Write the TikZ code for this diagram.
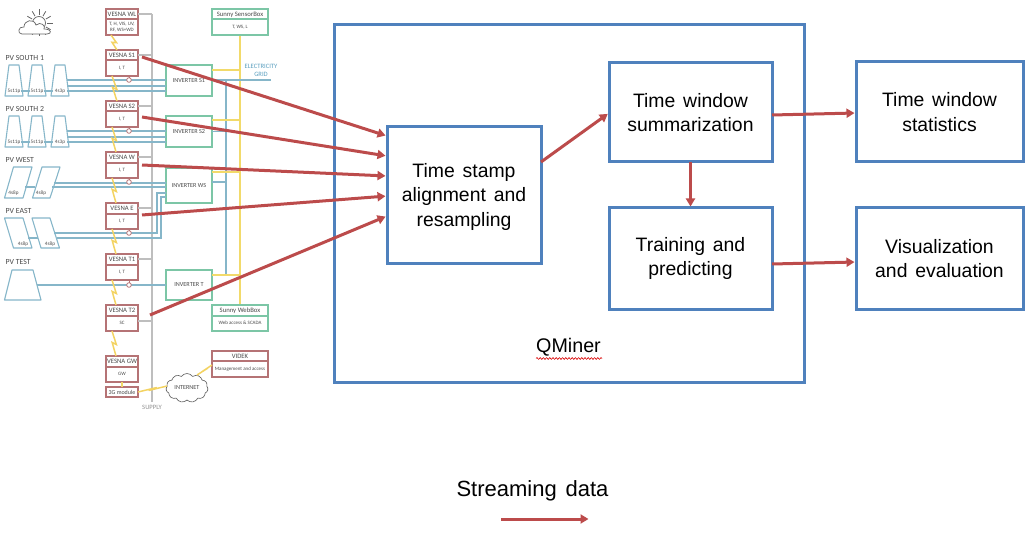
\documentclass[tikz,border=0pt]{standalone}
\usepackage{fontspec}
\setmainfont{Liberation Sans}
\newfontfamily\widef[WordSpace=1.45]{Liberation Sans}
\newfontfamily\tinyf{Carlito}
\usetikzlibrary{arrows.meta,shapes.symbols,decorations.pathmorphing,calc}
\definecolor{mainblue}{HTML}{4F81BD}
\definecolor{flowred}{HTML}{BC4B4B}
\definecolor{boxred}{HTML}{B57375}
\definecolor{boxgreen}{HTML}{7CC6A6}
\definecolor{linkblue}{HTML}{86B6C9}
\definecolor{linkyellow}{HTML}{F2DA6A}
\definecolor{linkgrey}{HTML}{BEBEBE}
\definecolor{tinytext}{HTML}{4A4A4A}
\definecolor{gridblue}{HTML}{5B9FBF}
\tikzset{
  mainbox/.style={draw=mainblue,line width=3pt,outer sep=0pt,align=center,inner sep=0pt,
    font=\widef\fontsize{19.4}{24.8}\selectfont},
  flow/.style={draw=flowred,line width=3pt,-{Triangle[length=8pt,width=9pt]}},
  panel/.style={draw=linkblue,line width=1.1pt,line join=round},
  cable/.style={draw=linkblue,line width=1.2pt},
  wire/.style={draw=linkyellow,line width=1.1pt},
  bolt/.style={draw=linkyellow!92!orange,line width=1.5pt,line join=miter},
  supply/.style={draw=linkgrey,line width=1.1pt},
  tinybox/.style={draw=#1,line width=1.2pt,outer sep=0pt,inner sep=0pt,fill=white},
  tinytitle/.style={font=\tinyf\fontsize{6.7}{8}\selectfont,text=tinytext,inner sep=0pt,yshift=-.7pt},
  tinysub/.style={font=\tinyf\fontsize{5}{6.6}\selectfont,text=tinytext,inner sep=0pt,align=center},
  pvlabel/.style={font=\tinyf\fontsize{7.8}{9}\selectfont,text=tinytext,inner sep=0pt,anchor=west},
  panellabel/.style={font=\tinyf\fontsize{5.2}{6}\selectfont,text=tinytext,inner sep=0pt},
  invbox/.style={draw=boxgreen,line width=1.2pt,outer sep=0pt,inner sep=0pt,fill=white,
    font=\tinyf\fontsize{6.2}{8}\selectfont,text=tinytext},
  sensor/.style={circle,draw=boxred,line width=.8pt,minimum size=4.6pt,inner sep=0pt,fill=white,outer sep=0pt}
}
% name, colour, width, cx, top, bottom, divider y
\newcommand{\twobox}[7]{%
  \node[tinybox=#2,minimum width=#3pt,minimum height={(#6-#5)*1pt},anchor=north] (#1) at (#4,#5) {};
  \coordinate (#1div) at (#4,#7);
  \draw[#2,line width=1.1pt] (#1.west |- #1div) -- (#1.east |- #1div);
}
\newcommand{\boltline}[2]{%
  \draw[bolt] (#1) -- ($(#1)!.58!(#2)+(2,-1)$) -- ($(#1)!.42!(#2)+(-1.5,1)$) -- (#2);
}
\newcommand{\trap}[5]{\draw[panel] (#1,#3) -- (#1+4,#2) -- (#1+14,#2) -- (#1+18,#3) -- cycle;
  \node[panellabel] (#4) at (#1+9,#3-5) {#5};}
\newcommand{\lowerstrut}{\rule{0pt}{18pt}}
\begin{document}
\begin{tikzpicture}[x=1pt,y=-1pt]
\useasboundingbox (0,0) rectangle (1028,540);

% ---- supply, wiring
\coordinate (supTop) at (152,14);
\coordinate (supBot) at (152,402);
\draw[supply] (supTop) -- (supBot);
\node[font=\tinyf\fontsize{6.6}{8}\selectfont,text=linkgrey!75!black,inner sep=0pt] (supplab) at (152,407.5) {SUPPLY};

% vertical bus lines
\coordinate (busBlueTop) at (226,80);
\coordinate (busBlueBot) at (226,275);
\draw[cable] (busBlueTop) -- (busBlueBot);
\coordinate (busYTop) at (240,35);
\coordinate (busYBot) at (240,305);
\draw[wire] (busYTop) -- (busYBot);

% ---- sensor/gateway boxes
\twobox{wl}{boxred}{32}{122}{9}{35}{19}
\twobox{s1}{boxred}{32}{122}{50}{76}{60}
\twobox{s2}{boxred}{32}{122}{101}{127}{111}
\twobox{vw}{boxred}{32}{122}{152}{178}{163}
\twobox{ve}{boxred}{32}{122}{203}{229}{214}
\twobox{t1}{boxred}{32}{122}{254}{280}{265}
\twobox{t2}{boxred}{32}{122}{305}{331}{316}
\twobox{gw}{boxred}{32}{122}{356}{382}{367}
\node[tinybox=boxred,minimum width=32pt,minimum height=10pt,font=\tinyf\fontsize{6}{7}\selectfont,text=tinytext] (g3) at (122,392) {3G module};
\twobox{ssb}{boxgreen}{56}{240}{9}{35}{19}
\twobox{swb}{boxgreen}{56}{240}{305}{331}{316}
\twobox{vid}{boxred}{56}{240}{351}{377}{361}
\node[tinytitle] (wlt) at (122,14) {VESNA WL};   \node[tinysub] (wls) at (122,27) {T, H, VIS, UV,\\RF, WS+WD};
\node[tinytitle] (s1t) at (122,55) {VESNA S1};  \node[tinysub] (s1s) at (122,68) {I, T};
\node[tinytitle] (s2t) at (122,106) {VESNA S2}; \node[tinysub] (s2s) at (122,119) {I, T};
\node[tinytitle] (vwt) at (122,157) {VESNA W};  \node[tinysub] (vws) at (122,170) {I, T};
\node[tinytitle] (vet) at (122,208) {VESNA E};  \node[tinysub] (ves) at (122,221) {I, T};
\node[tinytitle] (t1t) at (122,259) {VESNA T1}; \node[tinysub] (t1s) at (122,272) {I, T};
\node[tinytitle] (t2t) at (122,310) {VESNA T2}; \node[tinysub] (t2s) at (122,323) {SC};
\node[tinytitle] (gwt) at (122,361) {VESNA GW}; \node[tinysub] (gws) at (122,374) {GW};
\node[tinytitle] (ssbt) at (240,14) {Sunny SensorBox}; \node[tinysub] (ssbs) at (240,27) {T, WS, L};
\node[tinytitle] (swbt) at (240,310) {Sunny WebBox}; \node[tinysub] (swbs) at (240,323) {Web access \& SCADA};
\node[tinytitle] (vidt) at (240,356) {VIDEK}; \node[tinysub] (vids) at (240,369) {Management and access};

% ---- inverters
\node[invbox,minimum width=46pt,minimum height=31pt] (is1) at (189,80.5) {INVERTER S1};
\node[invbox,minimum width=46pt,minimum height=31pt] (is2) at (189,131.5) {INVERTER S2};
\node[invbox,minimum width=46pt,minimum height=35pt] (iws) at (189,185.5) {INVERTER WS};
\node[invbox,minimum width=46pt,minimum height=30pt] (it) at (189,285) {INVERTER T};

% ---- panels
\trap{5}{65}{96}{a1}{5s11p}\trap{28}{65}{96}{a2}{5s11p}\trap{51}{65}{96}{a3}{4s3p}
\trap{5}{116}{147}{b1}{5s11p}\trap{28}{116}{147}{b2}{5s11p}\trap{51}{116}{147}{b3}{4s3p}
\draw[panel] (4.5,198) -- (13.5,167) -- (32,167) -- (23,198) -- cycle;
\node[panellabel] (c1) at (13.5,193) {4s8p};
\draw[panel] (32.5,198) -- (42,167) -- (60,167) -- (50,198) -- cycle;
\node[panellabel] (c2) at (41,193) {4s8p};
\draw[panel] (4.5,218) -- (23,218) -- (32,248) -- (13.5,248) -- cycle;
\node[panellabel] (d1) at (23,244) {4s8p};
\draw[panel] (32,218) -- (50,218) -- (59.5,248) -- (41,248) -- cycle;
\node[panellabel] (d2) at (50,244) {4s8p};
\draw[panel] (4.5,300) -- (12,270) -- (33,270) -- (41,300) -- cycle;
\node[pvlabel] (p1) at (5.5,57.5) {PV SOUTH 1};
\node[pvlabel] (p2) at (5.5,108.5) {PV SOUTH 2};
\node[pvlabel] (p3) at (5.5,159.5) {PV WEST};
\node[pvlabel] (p4) at (5.5,210.5) {PV EAST};
\node[pvlabel] (p5) at (5.5,262) {PV TEST};

% ---- DC cables
\foreach \y in {80,86,91} \draw[cable] (67,\y) -- (is1.west |- 0,\y);
\foreach \y in {131,137,142} \draw[cable] (67,\y) -- (is2.west |- 0,\y);
\draw[cable] (is1.east |- 0,80) -- (271,80);
\draw[cable] (21,91) -- (30,91) (44,91) -- (53,91) (21,142) -- (30,142) (44,142) -- (53,142);
\draw[cable] (54,183) -- (iws.west |- 0,183);
\draw[cable] (52,187) -- (iws.west |- 0,187);
\draw[cable] (25,187) -- (35,187);
\draw[cable] (54,233) -- (157,233) -- (157,193) -- (iws.west |- 0,193);
\draw[cable] (57,238) -- (161,238) -- (161,197) -- (iws.west |- 0,197);
\draw[cable] (28,238) -- (38,238);
\draw[cable] (37,285) -- (it.west);
\draw[cable] (is2.east) -- (226,131.5);
\draw[cable] (iws.east |- 0,182) -- (226,182);
\draw[cable] (it.east |- 0,275) -- (226,275);

% ---- sensor branch
\foreach \n/\b/\y in {o1/s1/80,o2/s2/131,o3/vw/182,o4/ve/233,o5/t1/285}{
  \node[sensor] (\n) at (129,\y) {};
  \draw[boxred,line width=.7pt] (\b.south -| \n) -- (\n);
}
% ---- supply branches
\foreach \b/\y in {wl/14,s1/55,s2/106,vw/157,ve/208,t1/259,t2/321}
  \draw[supply] (\b.east |- 0,\y) -- (152,\y);

% ---- yellow branches
\draw[wire] (ssb.south) -- (busYTop);
\draw[wire] (is1.east |- 0,70) -- (240,70);
\draw[wire] (is2.east |- 0,120) -- (240,120);
\draw[wire] (iws.east |- 0,172) -- (240,172);
\draw[wire] (it.east |- 0,275) -- (240,275);

% ---- bolts
\coordinate (b1a) at (111,35); \coordinate (b1b) at (117,50);
\coordinate (b2a) at (112,76); \coordinate (b2b) at (117,101);
\coordinate (b3a) at (112,127); \coordinate (b3b) at (116,152);
\coordinate (b4a) at (112,178); \coordinate (b4b) at (116,203);
\coordinate (b5a) at (112,229); \coordinate (b5b) at (116,254);
\coordinate (b6a) at (112,280); \coordinate (b6b) at (116,305);
\coordinate (b7a) at (112,331); \coordinate (b7b) at (116,356);
\boltline{b1a}{b1b}\boltline{b2a}{b2b}\boltline{b3a}{b3b}\boltline{b4a}{b4b}
\boltline{b5a}{b5b}\boltline{b6a}{b6b}\boltline{b7a}{b7b}
\draw[wire] (gw.south) -- (g3.north);

% ---- internet
\node[cloud,cloud puffs=11,cloud puff arc=110,aspect=1.5,draw=black!65,line width=.6pt,fill=white,
  minimum width=42pt,minimum height=29pt,inner sep=0pt,outer sep=0pt,
  font=\tinyf\fontsize{6.2}{7}\selectfont,text=tinytext] (net) at (187,388) {INTERNET};
\coordinate (netR) at (197,375);
\coordinate (vidL) at (212,365);
\coordinate (g3R) at (138,392);
\coordinate (netL) at (167,386);
\boltline{g3R}{netL}\boltline{netR}{vidL}

% ---- grid label
\node[font=\tinyf\fontsize{6.6}{8.2}\selectfont,text=gridblue,align=center,inner sep=0pt] (gridlab) at (261,70) {ELECTRICITY\\GRID};

% ---- weather icon
\coordinate (sun) at (39,23);
\foreach \a in {0,30,...,330}
  \draw[black!60,line width=.8pt] ($(sun)+(\a:8)$) -- ($(sun)+(\a:13.5)$);
\draw[black!60,line width=.7pt,fill=white] (sun) circle (6.5);
\draw[black!60,line width=.7pt,fill=white] (22,34) .. controls (17,34) and (18,26) .. (24,27)
  .. controls (24,20) and (34,18) .. (36,25) .. controls (41,21) and (46,26) .. (44,29)
  .. controls (52,29) and (52,34) .. (47,34) -- cycle;

% ---- main blocks
\node[draw=mainblue,line width=3pt,outer sep=0pt,minimum width=470pt,minimum height=357pt,inner sep=0pt] (qm) at (569,203.5) {};
\node[mainbox,minimum width=154pt,minimum height=136pt] (ts) at (464,195) {\lowerstrut Time stamp\\alignment and\\resampling};
\node[mainbox,minimum width=163pt,minimum height=99pt] (tw) at (690.5,112.5) {Time window\\summarization};
\node[mainbox,minimum width=163pt,minimum height=101pt] (tp) at (690.5,258.5) {Training and\\predicting};
\node[mainbox,minimum width=167pt,minimum height=100pt] (st) at (939.5,112) {Time window\\statistics};
\node[mainbox,minimum width=167pt,minimum height=101pt] (ve2) at (939.5,258.5) {Visualization\\and evaluation};

\node[font=\fontsize{19.7}{24}\selectfont,inner sep=0pt] (qmt) at (568.5,347.5) {QMiner};
\draw[red!85!black,line width=.6pt,decorate,decoration={snake,amplitude=.9pt,segment length=3.2pt}]
  (536,358.5) -- (602,358.5);

% ---- streaming flows
\tikzset{shorten >=1.5pt}
\draw[flow] ([xshift=4pt,yshift=6pt]s1.east) -- (ts.west |- 0,136);
\draw[flow] ([xshift=4pt,yshift=-3pt]s2.east) -- (ts.west |- 0,156);
\draw[flow] ([xshift=4pt]vw.east) -- (ts.west |- 0,176);
\draw[flow] ([xshift=4pt,yshift=1pt]ve.east) -- (ts.west |- 0,196);
\draw[flow] ([xshift=12pt,yshift=3pt]t2.east) -- (ts.west |- 0,216);
\draw[flow] (ts.east |- 0,162) -- (tw.west |- 0,113);
\draw[flow] (tw.east |- 0,115) -- (st.west |- 0,113);
\draw[flow] (tw.south) -- (tp.north);
\draw[flow] (tp.east |- 0,264) -- (ve2.west |- 0,262);

% ---- legend
\node[font=\widef\fontsize{22}{26}\selectfont,inner sep=0pt] (leg) at (532.5,491) {Streaming data};
\coordinate (legA) at (501,519);
\coordinate (legB) at (590,519);
\draw[flow] (legA) -- (legB);
\end{tikzpicture}
\end{document}
